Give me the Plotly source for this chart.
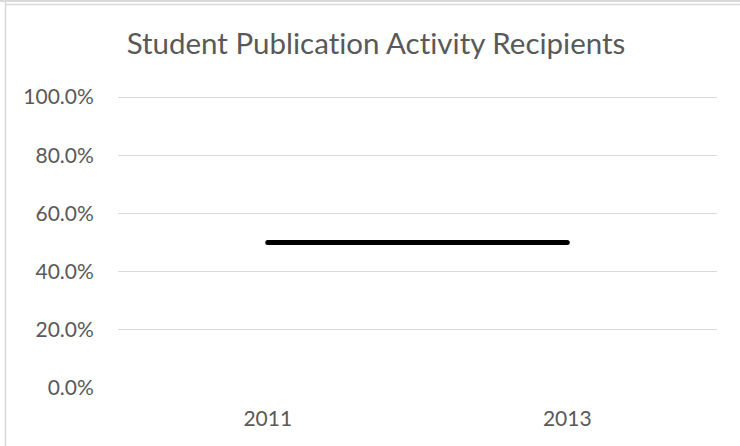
import plotly.graph_objects as go

years = ["2011", "2013"]
recipients = [0.5, 0.5]
y_ticks = [0, 0.2, 0.4, 0.6, 0.8, 1.0]
y_labels = ["0.0%", "20.0%", "40.0%", "60.0%", "80.0%", "100.0%"]

W, H = 740, 446
L, R, T, B = 118, 23, 92, 58
pw, ph = W - L - R, H - T - B
unit = 291.0  # pixels per 100 %

def px(x):
    return (x - L) / pw

def py(y):
    return (H - B - y) / ph

fig = go.Figure()
fig.add_trace(go.Scatter(
    x=years, y=recipients, mode="lines",
    line=dict(color="#000000", width=5),
    showlegend=False, hoverinfo="skip"))

border = "#d9d9d9"
shapes = [
    dict(type="line", xref="paper", yref="paper", x0=px(0), x1=px(740), y0=py(1), y1=py(1),
         line=dict(color=border, width=2)),
    dict(type="line", xref="paper", yref="paper", x0=px(5.5), x1=px(740), y0=py(4.5), y1=py(4.5),
         line=dict(color=border, width=1.5)),
    dict(type="line", xref="paper", yref="paper", x0=px(5.5), x1=px(5.5), y0=py(0), y1=py(446),
         line=dict(color=border, width=1.5)),
]

fig.update_layout(
    width=W, height=H,
    margin=dict(l=L, r=R, t=T, b=B, pad=0),
    paper_bgcolor="white", plot_bgcolor="white",
    font=dict(family="Lato, sans-serif", color="#595959"),
    title=dict(text="Student Publication Activity Recipients",
               xref="container", yref="container",
               x=376 / W, xanchor="center", y=1 - 44 / H, yanchor="middle",
               font=dict(size=29.5, color="#595959")),
    xaxis=dict(type="category", range=[-0.5, 1.5], showgrid=False, zeroline=False,
               showline=False, ticks="outside", ticklen=12, tickcolor="rgba(0,0,0,0)",
               tickfont=dict(size=21, color="#595959")),
    yaxis=dict(range=[0, ph / unit], tickvals=y_ticks, ticktext=y_labels, showgrid=True,
               gridcolor="#d9d9d9", gridwidth=1, zeroline=False, showline=False,
               ticks="outside", ticklen=19, tickcolor="rgba(0,0,0,0)",
               tickfont=dict(size=21, color="#595959")),
    shapes=shapes,
)

fig.write_html(
    "out.html",
    config={"displayModeBar": False},
    post_script=(
        "document.body.style.margin='0';"
        "var s=document.createElement('style');"
        "s.textContent='text{font-variant-ligatures:none !important;}"
        ".scatterlayer .js-line{stroke-linecap:round !important;}';"
        "document.head.appendChild(s);"
    ),
)
